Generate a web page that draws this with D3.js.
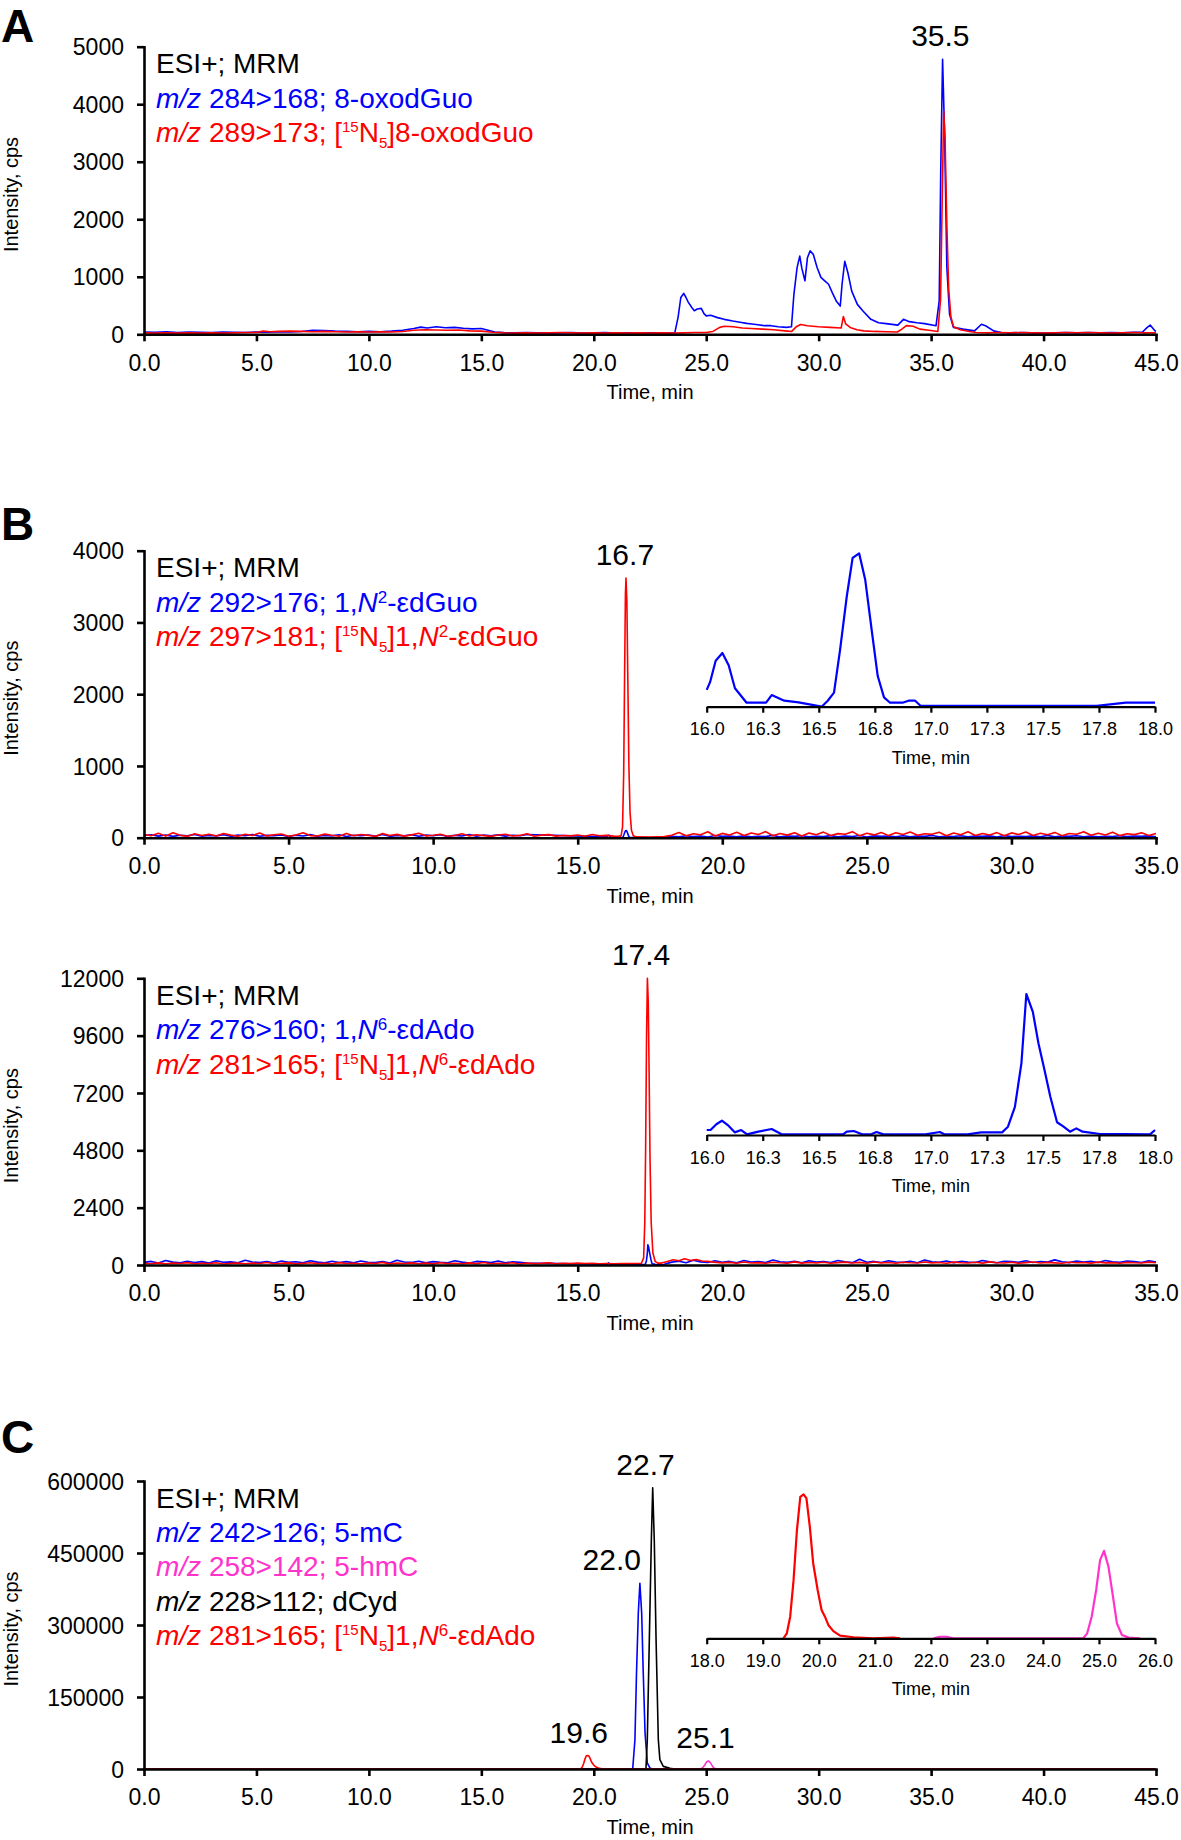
<!DOCTYPE html>
<html>
<head>
<meta charset="utf-8">
<script src="https://cdn.jsdelivr.net/npm/d3@7"></script>
<style>
    body { margin: 0; background: #fff; }
    svg { display: block; font-family: "Liberation Sans", Arial, Helvetica, sans-serif; }
</style>
</head>
<body>
<div id="chart"></div>
<script>
/* * * * * * * * * * * * * *
*   LC-MS/MS chromatograms   *
* * * * * * * * * * * * * */

// colours of the traces / legend text
const blue = "#0000ff", red = "#ff0000", magenta = "#ff33cc", black = "#000000";

// evenly spaced readings -> [time, cps] pairs
function spaced(start, step, values) {
    return values.map((v, i) => [start + i * step, v]);
}

// ---------- panel A : 8-oxodGuo, 0-45 min ----------
const xTicks45 = [0, 5, 10, 15, 20, 25, 30, 35, 40, 45];
const xLabels45 = ["0.0", "5.0", "10.0", "15.0", "20.0", "25.0", "30.0", "35.0", "40.0", "45.0"];
const xTicks35 = [0, 5, 10, 15, 20, 25, 30, 35];
const xLabels35 = ["0.0", "5.0", "10.0", "15.0", "20.0", "25.0", "30.0", "35.0"];

const aYTicks = [0, 1000, 2000, 3000, 4000, 5000];
const aYLabels = ["0", "1000", "2000", "3000", "4000", "5000"];

const aBlue = [
    [0,40],[0.5,35],[1,45],[1.5,30],[2,40],[2.5,35],[3,30],[3.5,40],[4,35],[4.5,30],[5,40],[5.5,35],[6,45],[6.5,40],
    [7,50],[7.5,70],[8,65],[8.5,55],[9,50],[9.5,45],[10,50],[10.5,45],[11,55],[11.5,70],[12,100],[12.3,125],[12.6,110],
    [13,130],[13.4,115],[13.8,120],[14.2,105],[14.6,95],[15,100],[15.3,70],[15.6,40],[16,30],[16.5,25],[17,30],[17.5,25],
    [18,20],[18.5,25],[19,30],[19.5,20],[20,25],[20.5,30],[21,20],[21.5,25],[22,20],[22.5,25],[23,20],[23.6,20],
    [23.75,300],[23.87,640],[24.0,710],[24.1,640],[24.2,560],[24.35,470],[24.47,410],[24.6,440],[24.78,450],[24.9,360],
    [25.0,320],[25.2,330],[25.5,290],[25.8,260],[26.18,230],[26.5,210],[26.8,190],[27.03,180],[27.3,165],[27.6,150],
    [27.88,150],[28.2,130],[28.57,120],[28.79,130],[28.9,700],[29.04,1160],[29.16,1360],[29.25,1150],[29.39,930],
    [29.5,1330],[29.62,1450],[29.76,1390],[29.93,1160],[30.1,990],[30.27,930],[30.44,870],[30.61,720],[30.78,580],
    [30.96,490],[31.04,870],[31.16,1270],[31.3,1070],[31.47,750],[31.72,520],[31.98,400],[32.32,260],[32.66,200],
    [33.0,185],[33.52,160],[33.77,260],[34.03,220],[34.37,200],[34.71,185],[35.22,150],[35.36,580],[35.43,2900],
    [35.51,4780],[35.6,3470],[35.7,1160],[35.82,350],[35.99,120],[36.42,90],[36.93,60],[37.24,175],[37.44,145],
    [37.78,60],[38.12,30],[38.5,25],[39,30],[39.5,25],[40,20],[40.5,25],[41,30],[41.5,25],[42,30],[42.5,25],[43,30],
    [43.5,25],[44,35],[44.4,40],[44.6,115],[44.74,160],[44.95,60],[45,55]
];

const aRed = [
    [0,25],[0.5,20],[1,25],[1.5,20],[2,25],[2.5,20],[3,25],[3.5,20],[4,25],[4.5,30],[5,30],[5.3,55],[5.6,45],[6,50],
    [6.5,55],[7,50],[7.5,45],[8,50],[8.5,45],[9,40],[9.5,45],[10,40],[10.5,45],[11,40],[11.5,50],[12,70],[12.5,80],
    [13,75],[13.5,70],[14,75],[14.5,60],[15,55],[15.5,35],[16,25],[16.5,20],[17,25],[17.5,20],[18,25],[18.5,30],[19,25],
    [19.5,20],[20,25],[20.5,20],[21,25],[21.5,20],[22,25],[22.5,20],[23,25],[23.5,20],[24,25],[24.5,30],[25,30],[25.3,50],
    [25.6,120],[25.8,140],[26.2,130],[26.6,110],[27,100],[27.5,90],[28,80],[28.5,60],[28.8,50],[29.0,130],[29.2,170],
    [29.5,150],[30,130],[30.5,120],[31.0,110],[31.1,310],[31.2,180],[31.4,120],[31.7,80],[32,60],[32.5,50],[33,45],
    [33.5,40],[33.7,90],[33.9,150],[34.2,140],[34.5,90],[34.9,70],[35.3,50],[35.42,600],[35.5,2500],[35.56,3880],
    [35.62,3400],[35.7,1900],[35.78,800],[35.88,300],[36.0,130],[36.3,80],[36.7,50],[37,30],[37.5,25],[38,30],[38.5,25],
    [39,30],[39.5,25],[40,20],[40.5,25],[41,30],[41.5,25],[42,30],[42.5,25],[43,20],[43.5,25],[44,30],[44.5,25],[45,25]
];

// ---------- panel B (top) : 1,N2-edGuo, 0-35 min ----------
const b1YTicks = [0, 1000, 2000, 3000, 4000];
const b1YLabels = ["0", "1000", "2000", "3000", "4000"];

// blue 16-18 min is what the inset shows
const b1BlueInset = [
    [16.0,11],[16.015,16],[16.04,30],[16.07,35],[16.098,27],[16.126,12],[16.178,2.6],[16.265,2.6],[16.29,7.6],
    [16.346,3.9],[16.41,2.8],[16.513,0],[16.54,3.9],[16.568,9.2],[16.595,37],[16.625,72],[16.651,97],[16.68,100],
    [16.707,83],[16.736,50],[16.763,20],[16.791,6.1],[16.818,2.6],[16.874,2.6],[16.9,3.9],[16.93,3.9],[16.955,0.5],
    [17.74,0.5],[17.87,2.6],[18.0,2.6]
];
const b1BlueEarly = [
    30,42,22,38,18,35,26,44,20,32, 25,40,19,36,28,45,21,33,27,39, 18,34,24,43,20,30,26,41,17,35,
    29,38,22,45,19,31,25,40,21,36, 27,42,18,33,24,44,20,37,26,39, 22,35,28,45
];
const b1BlueLate = [
    20,12,28,15,24,10,30,18,22,14, 26,12,20,16,32,11,24,19,27,13, 21,15,29,12,23,17,30,10,25,18,
    22,14,27,11,24,19,31,13,20,16, 28,12,23,18,26,10,29,15,21,17, 25,13,30,11,22,18,27,14,24,12,
    20,16,28,15,23,19,26,12
];
const b1RedEarly = [
    45,28,62,22,70,35,18,55,30,48, 24,58,36,20,47,31,66,25,42,52, 19,38,68,29,23,50,34,21,60,27,
    44,33,18,57,31,46,22,39,63,26, 35,48,20,30,54,25,41,29,18,37, 49,24,32,56,20,36,43,22,30,25,
    38,20,45,28,33,22
];
const b1RedPeak = [
    [16.4,20],[16.5,25],[16.55,150],[16.59,900],[16.62,2200],[16.65,3400],[16.67,3620],[16.7,3300],[16.73,2300],
    [16.77,1000],[16.81,350],[16.86,100],[16.92,30],[17.0,12],[17.5,10],[18.0,15]
];
const b1RedLate = [
    35,72,28,55,40,82,24,60,38,75, 30,66,45,85,27,58,36,70,25,64, 42,78,31,57,48,84,26,62,39,73,
    29,68,44,80,33,55,47,76,28,65, 40,83,30,59,37,71,26,67,45,79, 32,61,41,74,27,58,49,82,34,63,
    38,77,29,56,43,70,31,60
];

// ---------- panel B (bottom) : 1,N6-edAdo, 0-35 min ----------
const b2YTicks = [0, 2400, 4800, 7200, 9600, 12000];
const b2YLabels = ["0", "2400", "4800", "7200", "9600", "12000"];

const b2BlueInset = [
    [16.0,30],[16.017,30],[16.043,65],[16.068,86],[16.094,60],[16.125,16],[16.154,30],[16.18,4],[16.23,20],[16.29,36],
    [16.334,4],[16.608,4],[16.625,20],[16.656,24],[16.693,4],[16.736,6],[16.758,18],[16.788,4],[16.976,4],[17.04,18],
    [17.06,4],[17.164,4],[17.224,16],[17.318,16],[17.344,50],[17.375,170],[17.404,432],[17.426,850],[17.455,742],
    [17.48,553],[17.507,392],[17.533,231],[17.563,77],[17.592,50],[17.621,20],[17.649,40],[17.677,20],[17.755,6],
    [17.858,6],[17.978,4],[18.0,30]
];
const b2BlueEarly = [
    110,150,85,190,120,95,160,105,140,80, 175,115,130,90,200,125,100,145,85,165, 110,135,95,180,120,88,155,105,140,92,
    170,118,100,150,82,195,125,108,160,90, 140,112,96,175,120,85,150,130,100,165, 92,135,110,80
];
const b2BlueLate = [
    120,160,95,200,130,105,175,115,150,90, 185,125,140,100,210,135,110,155,95,180, 120,145,105,190,130,98,240,115,150,102,
    180,128,110,160,92,205,135,118,170,100, 150,122,106,185,130,95,160,140,110,175, 102,145,120,215,135,100,170,125,150,108,
    190,130,115,165,140,105,180,120
];
const b2RedEarly = [
    70,55,90,48,80,62,100,52,75,58, 95,45,68,85,50,78,60,105,54,72, 88,47,66,92,56,74,49,98,63,70,
    52,86,60,110,46,77,65,90,55,80, 48,94,62,71,53,88,58,102,50,76, 64,92,45,82,59,70,96,51,74,57,
    85,62,70,55,60,50,65,58,60
];
const b2RedPeak = [
    [17.2,60],[17.28,300],[17.32,1800],[17.35,5000],[17.38,9500],[17.41,12000],[17.44,11000],[17.47,8000],[17.5,4500],
    [17.54,1800],[17.6,500],[17.68,150],[17.76,80],[17.9,80],[18.1,150],[18.3,220],[18.5,180],[18.7,260],[18.9,190],
    [19.1,230],[19.3,170],[19.5,150],[19.7,120]
];
const b2RedLate = [
    90,110,75,125,85,100,70,118,92,80, 130,78,105,88,115,72,98,120,84,108, 76,126,90,102,70,116,95,82,128,88,
    106,74,120,93,85,112,78,130,96,86, 118,72,100,124,82,108,90,76,115,94, 104,80,122,88,98,75,110,92,85,120,
    96
];

const insetTicks16 = [16, 16.25, 16.5, 16.75, 17, 17.25, 17.5, 17.75, 18];
const insetLabels16 = ["16.0", "16.3", "16.5", "16.8", "17.0", "17.3", "17.5", "17.8", "18.0"];

// ---------- panel C : cytidines, 0-45 min ----------
const cYTicks = [0, 150000, 300000, 450000, 600000];
const cYLabels = ["0", "150000", "300000", "450000", "600000"];

const cBlue = [
    [0,0],[21.73,0],[21.83,61000],[21.9,200000],[21.98,325000],[22.05,387000],[22.13,325000],[22.2,200000],
    [22.28,75000],[22.38,12500],[22.5,2000],[22.59,0],[45,0]
];
const cBlack = [
    [0,0],[22.32,0],[22.38,61000],[22.47,269000],[22.56,477000],[22.62,586000],[22.69,477000],[22.77,269000],
    [22.87,61000],[22.94,19400],[23.09,5500],[23.39,1400],[23.6,0],[45,0]
];
const cRed = [
    [0,0],[19.37,0],[19.43,970],[19.49,4200],[19.55,11300],[19.61,21000],[19.67,27500],[19.73,28000],[19.78,27200],
    [19.84,21700],[19.9,14600],[19.98,9400],[20.05,5500],[20.11,4200],[20.17,2600],[20.26,1400],[20.38,520],
    [20.62,200],[20.97,0],[21.33,130],[21.45,0],[45,0]
];
const cMagenta = [
    [0,0],[22.05,0],[22.16,300],[22.28,300],[22.4,0],[24.72,0],[24.79,970],[24.87,4200],[24.95,9400],[25.02,15200],
    [25.09,17000],[25.17,13900],[25.25,8100],[25.32,2900],[25.41,650],[25.53,130],[25.73,0],[45,0]
];

const insetTicks18 = [18, 19, 20, 21, 22, 23, 24, 25, 26];
const insetLabels18 = ["18.0", "19.0", "20.0", "21.0", "22.0", "23.0", "24.0", "25.0", "26.0"];

// legend rows: [text, style]  style: i = italic, iso = small raised/lowered isotope digits, sup = exponent
const aLegend = [
    {color: black, parts: [["ESI+; MRM"]]},
    {color: blue, parts: [["m/z", "i"], [" 284>168; 8-oxodGuo"]]},
    {color: red, parts: [["m/z", "i"], [" 289>173; ["], ["15", "isoUp"], ["N"], ["5", "isoDown"], ["]8-oxodGuo"]]}
];
const b1Legend = [
    {color: black, parts: [["ESI+; MRM"]]},
    {color: blue, parts: [["m/z", "i"], [" 292>176; 1,"], ["N", "i"], ["2", "sup"], ["-εdGuo"]]},
    {color: red, parts: [["m/z", "i"], [" 297>181; ["], ["15", "isoUp"], ["N"], ["5", "isoDown"], ["]1,"], ["N", "i"], ["2", "sup"], ["-εdGuo"]]}
];
const b2Legend = [
    {color: black, parts: [["ESI+; MRM"]]},
    {color: blue, parts: [["m/z", "i"], [" 276>160; 1,"], ["N", "i"], ["6", "sup"], ["-εdAdo"]]},
    {color: red, parts: [["m/z", "i"], [" 281>165; ["], ["15", "isoUp"], ["N"], ["5", "isoDown"], ["]1,"], ["N", "i"], ["6", "sup"], ["-εdAdo"]]}
];
const cLegend = [
    {color: black, parts: [["ESI+; MRM"]]},
    {color: blue, parts: [["m/z", "i"], [" 242>126; 5-mC"]]},
    {color: magenta, parts: [["m/z", "i"], [" 258>142; 5-hmC"]]},
    {color: black, parts: [["m/z", "i"], [" 228>112; dCyd"]]},
    {color: red, parts: [["m/z", "i"], [" 281>165; ["], ["15", "isoUp"], ["N"], ["5", "isoDown"], ["]1,"], ["N", "i"], ["6", "sup"], ["-εdAdo"]]}
];


// ---------- layout ----------
const W = 1181, H = 1840;
const plotLeft = 144, plotRight = 1156;
const insetLeft = 706.7, insetRight = 1155;
const FONT = "'Liberation Sans', Arial, Helvetica, sans-serif";


class ChromPanel {
    constructor(svg, cfg) {
        this.svg = svg;
        this.cfg = cfg;
        this.initVis();
    }

    initVis() {
        let vis = this;
        let c = vis.cfg;

        vis.g = vis.svg.append("g").attr("class", "panel");

        vis.x = d3.scaleLinear().domain(c.xDomain).range([plotLeft, plotRight]);
        vis.y = d3.scaleLinear().domain([0, c.yMax]).range([c.bottom, c.top]);
        vis.line = d3.line().x(d => vis.x(d[0])).y(d => vis.y(d[1]));

        if (c.letter) {
            vis.g.append("text")
                .attr("x", 1).attr("y", c.letterY)
                .attr("font-size", 46).attr("font-weight", "bold")
                .text(c.letter);
        }

        vis.updateVis();
    }

    updateVis() {
        let vis = this;
        let c = vis.cfg;

        // traces under the axes
        vis.g.append("g").attr("class", "traces")
            .selectAll("path")
            .data(c.series)
            .enter().append("path")
            .attr("d", d => vis.line(d.points))
            .attr("fill", "none")
            .attr("stroke", d => d.color)
            .attr("stroke-width", 1.6)
            .attr("stroke-linejoin", "round");

        let xAxis = d3.axisBottom(vis.x)
            .tickValues(c.xTicks)
            .tickFormat((d, i) => c.xLabels[i])
            .tickSize(7).tickSizeOuter(0).tickPadding(13);

        let yAxis = d3.axisLeft(vis.y)
            .tickValues(c.yTicks)
            .tickFormat((d, i) => c.yLabels[i])
            .tickSize(7).tickSizeOuter(0).tickPadding(13);

        let gx = vis.g.append("g").attr("transform", `translate(0,${c.bottom})`).call(xAxis);
        let gy = vis.g.append("g").attr("transform", `translate(${plotLeft},0)`).call(yAxis);
        [gx, gy].forEach(a => {
            a.attr("font-size", 23).attr("font-family", FONT);
            a.selectAll("path, line").attr("stroke", "#000").attr("stroke-width", 2.6);
            a.select(".domain").attr("stroke-linecap", "square");
            a.selectAll("text").attr("fill", "#000");
        });
        gy.selectAll("text").attr("dy", "0.35em");

        // axis titles
        vis.g.append("text")
            .attr("transform", `translate(18,${(c.top + c.bottom) / 2 + 4}) rotate(-90)`)
            .attr("text-anchor", "middle").attr("font-size", 20)
            .text("Intensity, cps");

        vis.g.append("text")
            .attr("x", (plotLeft + plotRight) / 2).attr("y", c.bottom + 65)
            .attr("text-anchor", "middle").attr("font-size", 20)
            .text("Time, min");

        vis.drawLegend();
        vis.drawPeakLabels();
        if (c.inset) vis.drawInset();
    }

    drawLegend() {
        let vis = this;
        let c = vis.cfg;
        let shifts = {isoUp: -9.5, isoDown: 6, sup: -9};
        let sizes = {isoUp: 15, isoDown: 15, sup: 17};

        c.legend.forEach((row, i) => {
            let t = vis.g.append("text")
                .attr("x", 156)
                .attr("y", c.top + 26.6 + i * 34.3)
                .attr("fill", row.color)
                .attr("font-size", 28);
            let cur = 0;
            row.parts.forEach(p => {
                let style = p[1] || "";
                let target = shifts[style] || 0;
                let ts = t.append("tspan").text(p[0]).attr("dy", target - cur);
                cur = target;
                if (style === "i") ts.attr("font-style", "italic");
                if (sizes[style]) ts.attr("font-size", sizes[style]);
            });
        });
    }

    drawPeakLabels() {
        let vis = this;
        let c = vis.cfg;
        c.peaks.forEach(pk => {
            let near = pk.points.filter(p => Math.abs(p[0] - pk.t) < 0.4);
            let top = d3.max(near, p => p[1]);
            vis.g.append("text")
                .attr("x", vis.x(pk.t) + (pk.dx || 0))
                .attr("y", vis.y(top) - 13)
                .attr("text-anchor", "middle")
                .attr("font-size", 30)
                .text(pk.text);
        });
    }

    drawInset() {
        let vis = this;
        let ins = vis.cfg.inset;

        let ix = d3.scaleLinear().domain(ins.xDomain).range([insetLeft, insetRight]);
        let iy = d3.scaleLinear().domain([0, ins.yMax]).range([ins.base, ins.base - ins.height]);
        let iline = d3.line().x(d => ix(d[0])).y(d => iy(d[1]));

        let ig = vis.g.append("g").attr("class", "inset");

        ig.selectAll("path.itrace")
            .data(ins.series)
            .enter().append("path")
            .attr("class", "itrace")
            .attr("d", d => iline(d.points.filter(p => p[0] >= ins.xDomain[0] && p[0] <= ins.xDomain[1])))
            .attr("fill", "none")
            .attr("stroke", d => d.color)
            .attr("stroke-width", 2.2)
            .attr("stroke-linejoin", "round");

        let ax = d3.axisBottom(ix)
            .tickValues(ins.ticks)
            .tickFormat((d, i) => ins.labels[i])
            .tickSize(6).tickSizeOuter(0).tickPadding(10);

        let ga = ig.append("g").attr("transform", `translate(0,${ins.base})`).call(ax);
        ga.attr("font-size", 18).attr("font-family", FONT);
        ga.selectAll("path, line").attr("stroke", "#000").attr("stroke-width", 2.2);
        ga.selectAll("text").attr("fill", "#000");

        ig.append("text")
            .attr("x", (insetLeft + insetRight) / 2).attr("y", ins.base + 57)
            .attr("text-anchor", "middle").attr("font-size", 18)
            .text("Time, min");
    }
}


// ---------- build ----------
let svg = d3.select("#chart").append("svg")
    .attr("width", W).attr("height", H)
    .attr("font-family", FONT);

svg.append("rect").attr("width", W).attr("height", H).attr("fill", "#fff");

let b1Blue = spaced(0, 0.25, b1BlueEarly).concat(b1BlueInset, spaced(18.25, 0.25, b1BlueLate));
let b1Red = spaced(0, 0.25, b1RedEarly).concat(b1RedPeak, spaced(18.25, 0.25, b1RedLate));
let b2Blue = spaced(0, 0.25, b2BlueEarly).concat(b2BlueInset, spaced(18.25, 0.25, b2BlueLate));
let b2Red = spaced(0, 0.25, b2RedEarly).concat(b2RedPeak, spaced(20, 0.25, b2RedLate));

new ChromPanel(svg, {
    letter: "A", letterY: 42,
    top: 46.7, bottom: 334.3, yMax: 5000,
    xDomain: [0, 45], xTicks: xTicks45, xLabels: xLabels45,
    yTicks: aYTicks, yLabels: aYLabels,
    series: [{color: blue, points: aBlue}, {color: red, points: aRed}],
    legend: aLegend,
    peaks: [{text: "35.5", t: 35.5, points: aBlue, dx: -2}]
});

new ChromPanel(svg, {
    letter: "B", letterY: 540,
    top: 550.7, bottom: 837.7, yMax: 4000,
    xDomain: [0, 35], xTicks: xTicks35, xLabels: xLabels35,
    yTicks: b1YTicks, yLabels: b1YLabels,
    series: [{color: blue, points: b1Blue}, {color: red, points: b1Red}],
    legend: b1Legend,
    peaks: [{text: "16.7", t: 16.7, points: b1Red, dx: -2}],
    inset: {xDomain: [16, 18], ticks: insetTicks16, labels: insetLabels16, base: 706.7, height: 153.4, yMax: 100,
            series: [{color: blue, points: b1Blue}]}
});

new ChromPanel(svg, {
    top: 978.3, bottom: 1265, yMax: 12000,
    xDomain: [0, 35], xTicks: xTicks35, xLabels: xLabels35,
    yTicks: b2YTicks, yLabels: b2YLabels,
    series: [{color: blue, points: b2Blue}, {color: red, points: b2Red}],
    legend: b2Legend,
    peaks: [{text: "17.4", t: 17.4, points: b2Red, dx: -6}],
    inset: {xDomain: [16, 18], ticks: insetTicks16, labels: insetLabels16, base: 1135, height: 141, yMax: 850,
            series: [{color: blue, points: b2Blue}]}
});

new ChromPanel(svg, {
    letter: "C", letterY: 1453,
    top: 1481, bottom: 1769, yMax: 600000,
    xDomain: [0, 45], xTicks: xTicks45, xLabels: xLabels45,
    yTicks: cYTicks, yLabels: cYLabels,
    series: [{color: blue, points: cBlue}, {color: magenta, points: cMagenta},
             {color: black, points: cBlack}, {color: red, points: cRed}],
    legend: cLegend,
    peaks: [
        {text: "22.7", t: 22.7, points: cBlack, dx: -9},
        {text: "22.0", t: 22.0, points: cBlue, dx: -27},
        {text: "19.6", t: 19.6, points: cRed, dx: -6},
        {text: "25.1", t: 25.1, points: cMagenta, dx: -3}
    ],
    inset: {xDomain: [18, 26], ticks: insetTicks18, labels: insetLabels18, base: 1638.3, height: 144, yMax: 28000,
            series: [{color: red, points: cRed}, {color: magenta, points: cMagenta}]}
});
</script>
</body>
</html>
